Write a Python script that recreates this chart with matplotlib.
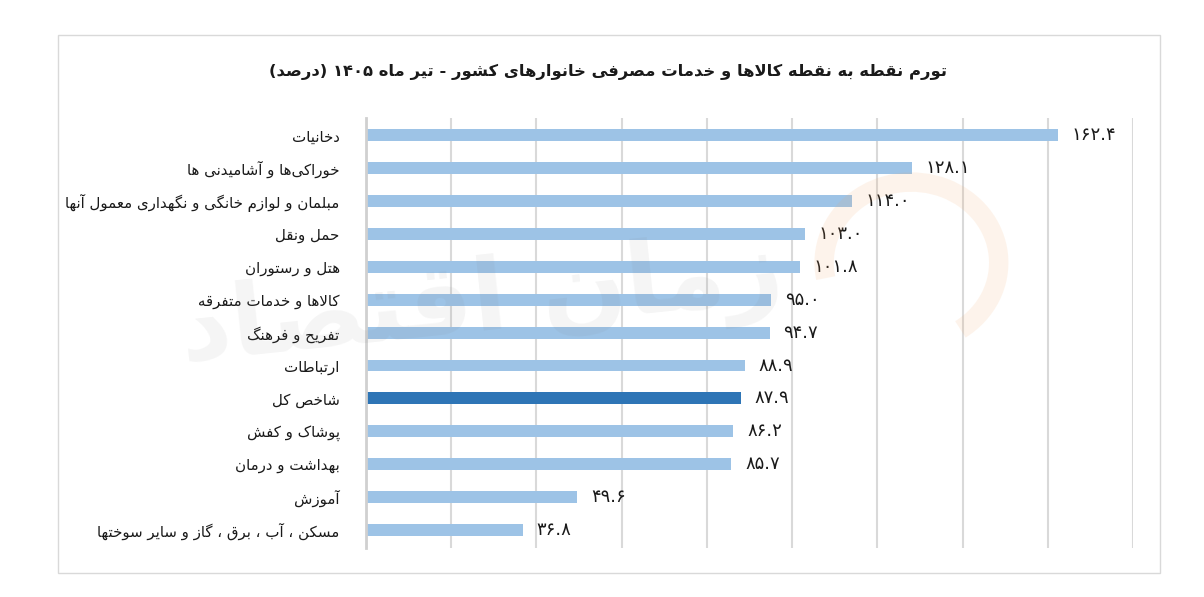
import re
import matplotlib
matplotlib.use('Agg')
import matplotlib.pyplot as plt
from matplotlib.patches import Rectangle, Arc

title = 'تورم نقطه به نقطه کالاها و خدمات مصرفی خانوارهای کشور - تیر ماه ۱۴۰۵ (درصد)'
categories = ['دخانیات', 'خوراکی\u200cها و آشامیدنی ها',
              'مبلمان و لوازم خانگی و نگهداری معمول آنها', 'حمل ونقل',
              'هتل و رستوران', 'کالاها و خدمات متفرقه', 'تفریح و فرهنگ',
              'ارتباطات', 'شاخص کل', 'پوشاک و کفش', 'بهداشت و درمان',
              'آموزش', 'مسکن ، آب ، برق ، گاز و سایر سوختها']
values = [162.4, 128.1, 114.0, 103.0, 101.8, 95.0, 94.7, 88.9, 87.9, 86.2, 85.7, 49.6, 36.8]
highlight = 'شاخص کل'
watermark = 'زمان اقتصاد'

# isolated, final, initial, medial presentation forms
FORMS = {
    'ا': ('\uFE8D', '\uFE8E', None, None), 'آ': ('\uFE81', '\uFE82', None, None),
    'ب': ('\uFE8F', '\uFE90', '\uFE91', '\uFE92'), 'پ': ('\uFB56', '\uFB57', '\uFB58', '\uFB59'),
    'ت': ('\uFE95', '\uFE96', '\uFE97', '\uFE98'), 'ث': ('\uFE99', '\uFE9A', '\uFE9B', '\uFE9C'),
    'ج': ('\uFE9D', '\uFE9E', '\uFE9F', '\uFEA0'), 'چ': ('\uFB7A', '\uFB7B', '\uFB7C', '\uFB7D'),
    'ح': ('\uFEA1', '\uFEA2', '\uFEA3', '\uFEA4'), 'خ': ('\uFEA5', '\uFEA6', '\uFEA7', '\uFEA8'),
    'د': ('\uFEA9', '\uFEAA', None, None), 'ذ': ('\uFEAB', '\uFEAC', None, None),
    'ر': ('\uFEAD', '\uFEAE', None, None), 'ز': ('\uFEAF', '\uFEB0', None, None),
    'ژ': ('\uFB8A', '\uFB8B', None, None),
    'س': ('\uFEB1', '\uFEB2', '\uFEB3', '\uFEB4'), 'ش': ('\uFEB5', '\uFEB6', '\uFEB7', '\uFEB8'),
    'ص': ('\uFEB9', '\uFEBA', '\uFEBB', '\uFEBC'), 'ض': ('\uFEBD', '\uFEBE', '\uFEBF', '\uFEC0'),
    'ط': ('\uFEC1', '\uFEC2', '\uFEC3', '\uFEC4'), 'ظ': ('\uFEC5', '\uFEC6', '\uFEC7', '\uFEC8'),
    'ع': ('\uFEC9', '\uFECA', '\uFECB', '\uFECC'), 'غ': ('\uFECD', '\uFECE', '\uFECF', '\uFED0'),
    'ف': ('\uFED1', '\uFED2', '\uFED3', '\uFED4'), 'ق': ('\uFED5', '\uFED6', '\uFED7', '\uFED8'),
    'ک': ('\uFB8E', '\uFB8F', '\uFB90', '\uFB91'), 'گ': ('\uFB92', '\uFB93', '\uFB94', '\uFB95'),
    'ل': ('\uFEDD', '\uFEDE', '\uFEDF', '\uFEE0'), 'م': ('\uFEE1', '\uFEE2', '\uFEE3', '\uFEE4'),
    'ن': ('\uFEE5', '\uFEE6', '\uFEE7', '\uFEE8'), 'ه': ('\uFEE9', '\uFEEA', '\uFEEB', '\uFEEC'),
    'و': ('\uFEED', '\uFEEE', None, None), 'ی': ('\uFBFC', '\uFBFD', '\uFBFE', '\uFBFF'),
}
LAMALEF = {'ا': ('\uFEFB', '\uFEFC'), 'آ': ('\uFEF5', '\uFEF6')}


def shape(text):
    out = []
    prev_joins = False
    i = 0
    while i < len(text):
        c = text[i]
        nxt = text[i + 1] if i + 1 < len(text) else ''
        if c == 'ل' and nxt in LAMALEF:
            out.append(LAMALEF[nxt][1] if prev_joins else LAMALEF[nxt][0])
            prev_joins = False
            i += 2
            continue
        if c in FORMS:
            iso, fin, ini, med = FORMS[c]
            to_next = ini is not None and nxt in FORMS
            if prev_joins and to_next:
                out.append(med)
            elif prev_joins:
                out.append(fin)
            elif to_next:
                out.append(ini)
            else:
                out.append(iso)
            prev_joins = to_next
        else:
            if c != '\u200c':
                out.append(c)
            prev_joins = False
        i += 1
    return ''.join(out)


def rtl(text):
    s = shape(text)[::-1].translate(str.maketrans('()', ')('))
    return re.sub(r'[۰-۹0-9][۰-۹0-9.]*', lambda m: m.group(0)[::-1], s)


def fa_num(v):
    return f'{v:.1f}'.translate(str.maketrans('0123456789', '۰۱۲۳۴۵۶۷۸۹'))


plt.rcParams['font.family'] = ['DejaVu Sans']

fig = plt.figure(figsize=(12.04, 5.97), dpi=100)
fig.patches.append(Rectangle((58 / 1204, 24 / 597), 1102 / 1204, 538 / 597,
                             transform=fig.transFigure, fill=False,
                             edgecolor='#d9d9d9', linewidth=1))
ax = fig.add_axes([0.304, 0.082, 0.637, 0.720])

y = list(range(len(categories)))
colors = ['#2e75b6' if c == highlight else '#9dc3e6' for c in categories]
ax.barh(y, values, height=0.36, color=colors, zorder=2)
ax.set_ylim(len(categories) - 0.45, -0.52)
ax.set_xlim(0, 180)
ax.set_xticks(range(0, 181, 20))
ax.xaxis.grid(True, color='#d9d9d9', linewidth=1.5, zorder=0)
ax.tick_params(length=0, labelbottom=False)
ax.set_yticks(y)
ax.set_yticklabels([rtl(c) for c in categories], fontsize=10.8, color='#1a1a1a')
ax.tick_params(axis='y', pad=19)
for s in ['top', 'right', 'bottom']:
    ax.spines[s].set_visible(False)
ax.spines['left'].set_color('#d0d0d0')
ax.spines['left'].set_linewidth(2)

for yi, v in zip(y, values):
    ax.annotate(fa_num(v), (v, yi), xytext=(10, 0), textcoords='offset points',
                ha='left', va='center', fontsize=13, color='#1a1a1a')

fig.text(0.505, 0.88, rtl(title), ha='center', va='center',
         fontsize=11.8, fontweight='bold', color='#1a1a1a')

# faint logo watermark
fig.text(0.40, 0.49, rtl(watermark), ha='center', va='center', fontsize=72,
         fontweight='bold', color='#7f7f7f', alpha=0.08, rotation=6, zorder=5)
fig.patches.append(Arc((0.757, 0.56), 0.145, 0.27, theta1=-70, theta2=200,
                       transform=fig.transFigure, color='#f4a460', alpha=0.12,
                       linewidth=14, zorder=5))

fig.savefig('out.png', dpi=100)
